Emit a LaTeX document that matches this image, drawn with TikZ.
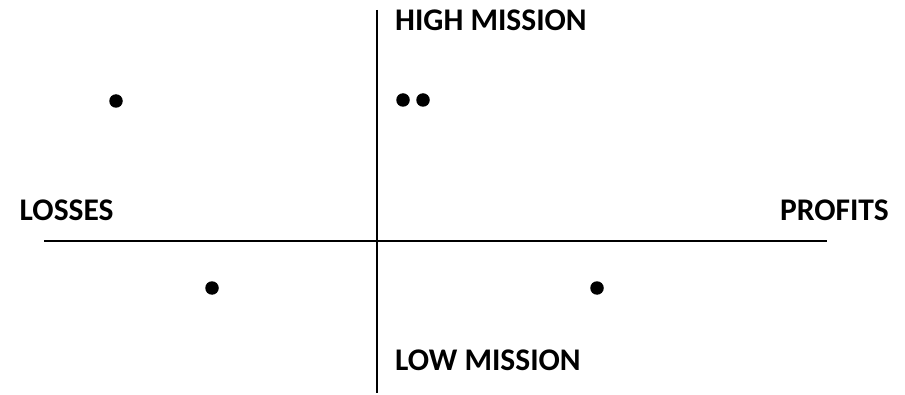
\documentclass[tikz,border=0pt]{standalone}
\usepackage{fontspec}
\setmainfont{Carlito}
\usepackage{tikz}
\tikzset{
  axislab/.style={font=\fontsize{31.5}{33}\selectfont\bfseries,inner sep=0pt,text=black},
  axisline/.style={draw=black,line width=2pt},
  pt/.style={circle,fill=black,inner sep=0pt,minimum size=13.5pt},
}

\begin{document}
\begin{tikzpicture}[x=1pt,y=1pt]
  \useasboundingbox (0,0) rectangle (905,394);
  \coordinate (top) at (376.5,384);
  \coordinate (bot) at (376.5,1);
  \coordinate (lft) at (44,153);
  \coordinate (rgt) at (827,153);
  \draw[axisline] (top) -- (bot);
  \draw[axisline] (lft) -- (rgt);
  \node[axislab,anchor=base west] (high) at (395,363) {HIGH MISSION};
  \node[axislab,anchor=base west] (low) at (395,24) {LOW MISSION};
  \node[axislab,anchor=base west] (loss) at (19.5,173) {LOSSES};
  \node[axislab,anchor=base east] (prof) at (889,173) {PROFITS};
  \node[pt] (d1) at (116,293) {};
  \node[pt] (d2) at (403,294) {};
  \node[pt] (d3) at (423,294) {};
  \node[pt] (d4) at (212,106) {};
  \node[pt] (d5) at (597,106) {};
\end{tikzpicture}
\end{document}
